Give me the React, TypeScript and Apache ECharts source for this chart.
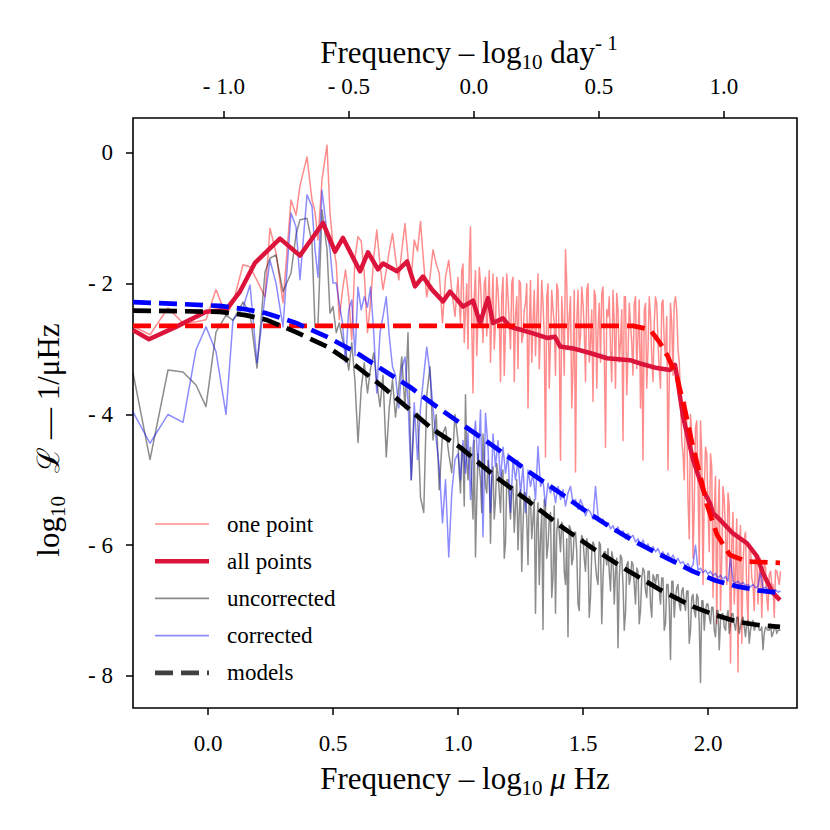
import React, { useEffect, useRef } from 'react';
import * as echarts from 'echarts';

const FONT = "'Liberation Serif', 'DejaVu Serif', serif";

// Frequency grid (log10 μHz) of the noisy spectra
const freqLow = [-0.30, -0.232, -0.16, -0.10, -0.048, -0.008, 0.032, 0.072, 0.10, 0.14, 0.168, 0.196, 0.228, 0.248, 0.272, 0.30, 0.332, 0.352, 0.368, 0.396, 0.416, 0.428, 0.44, 0.456, 0.476, 0.488, 0.50];
const freqMid = [0.513, 0.525, 0.538, 0.55, 0.563, 0.575, 0.588, 0.60, 0.613, 0.625, 0.638, 0.65, 0.663, 0.675, 0.688, 0.70, 0.713, 0.725, 0.738, 0.75, 0.763, 0.775, 0.788, 0.80, 0.813, 0.825, 0.838, 0.85, 0.863, 0.875, 0.888, 0.90, 0.913, 0.925, 0.938, 0.95, 0.963, 0.975, 0.988];
const freqHigh = [
  1.00, 1.01, 1.02, 1.03, 1.04, 1.05, 1.06, 1.07, 1.08, 1.09,
  1.10, 1.11, 1.12, 1.13, 1.14, 1.15, 1.16, 1.17, 1.18, 1.19,
  1.20, 1.21, 1.22, 1.23, 1.24, 1.25, 1.26, 1.27, 1.28, 1.29,
  1.30, 1.31, 1.32, 1.33, 1.34, 1.35, 1.36, 1.37, 1.38, 1.39,
  1.40, 1.41, 1.42, 1.43, 1.44, 1.45, 1.46, 1.47, 1.48, 1.49,
  1.50, 1.51, 1.52, 1.53, 1.54, 1.55, 1.56, 1.57, 1.58, 1.59,
  1.60, 1.61, 1.62, 1.63, 1.64, 1.65, 1.66, 1.67, 1.68, 1.69,
  1.70, 1.71, 1.72, 1.73, 1.74, 1.75, 1.76, 1.77, 1.78, 1.79,
  1.80, 1.81, 1.82, 1.83, 1.84, 1.85, 1.86, 1.87, 1.88, 1.89,
  1.90, 1.91, 1.92, 1.93, 1.94, 1.95, 1.96, 1.97, 1.98, 1.99,
  2.00, 2.01, 2.02, 2.03, 2.04, 2.05, 2.06, 2.07, 2.08, 2.09,
  2.10, 2.11, 2.12, 2.13, 2.14, 2.15, 2.16, 2.17, 2.18, 2.19,
  2.20, 2.21, 2.22, 2.23, 2.24, 2.25, 2.26, 2.27, 2.28, 2.29,
];
// in-between frequencies (used by the densest spectra)
const freqHighB = [
  1.005, 1.015, 1.025, 1.035, 1.045, 1.055, 1.065, 1.075, 1.085, 1.095,
  1.105, 1.115, 1.125, 1.135, 1.145, 1.155, 1.165, 1.175, 1.185, 1.195,
  1.205, 1.215, 1.225, 1.235, 1.245, 1.255, 1.265, 1.275, 1.285, 1.295,
  1.305, 1.315, 1.325, 1.335, 1.345, 1.355, 1.365, 1.375, 1.385, 1.395,
  1.405, 1.415, 1.425, 1.435, 1.445, 1.455, 1.465, 1.475, 1.485, 1.495,
  1.505, 1.515, 1.525, 1.535, 1.545, 1.555, 1.565, 1.575, 1.585, 1.595,
  1.605, 1.615, 1.625, 1.635, 1.645, 1.655, 1.665, 1.675, 1.685, 1.695,
  1.705, 1.715, 1.725, 1.735, 1.745, 1.755, 1.765, 1.775, 1.785, 1.795,
  1.805, 1.815, 1.825, 1.835, 1.845, 1.855, 1.865, 1.875, 1.885, 1.895,
  1.905, 1.915, 1.925, 1.935, 1.945, 1.955, 1.965, 1.975, 1.985, 1.995,
  2.005, 2.015, 2.025, 2.035, 2.045, 2.055, 2.065, 2.075, 2.085, 2.095,
  2.105, 2.115, 2.125, 2.135, 2.145, 2.155, 2.165, 2.175, 2.185, 2.195,
  2.205, 2.215, 2.225, 2.235, 2.245, 2.255, 2.265, 2.275, 2.285,
];

// "one point" spectrum (log10 power)
const onePointLow = [-2.65, -2.78, -2.37, -2.60, -2.58, -2.55, -2.09, -2.48, -2.30, -1.71, -1.74, -1.95, -2.20, -1.15, -1.53, -2.29, -0.72, -0.95, -0.50, -0.06, -0.72, -0.90, -1.33, -0.41, 0.12, -0.92, -1.40];
const onePointMid = [-1.69, -2.55, -2.1, -1.79, -2.2, -2.86, -1.6, -1.28, -1.35, -1.84, -2.75, -2.29, -1.6, -1.18, -1.7, -2.09, -1.8, -1.5, -1.23, -1.6, -1.94, -1.5, -1.08, -1.6, -1.9, -1.33, -1.5, -1.05, -1.7, -2.20, -1.9, -1.48, -1.7, -1.84, -2.6, -1.9, -1.64, -2.1, -2.50];
const onePointHigh = [
  -1.9, -2.6, -1.7, -2.4, -3.0, -1.13, -3.67, -1.8, -2.5, -2.0,
  -2.9, -1.9, -2.3, -3.2, -1.85, -2.6, -2.1, -3.5, -1.9, -2.7,
  -2.2, -3.0, -1.9, -2.5, -3.3, -2.0, -2.8, -2.3, -3.9, -1.95,
  -2.6, -3.1, -1.85, -2.7, -2.3, -4.65, -2.0, -2.9, -2.4, -3.4,
  -2.1, -4.7, -2.6, -1.48, -3.0, -2.2, -3.3, -4.88, -2.1, -2.8,
  -2.3, -3.5, -2.0, -2.9, -3.8, -2.2, -2.7, -3.2, -2.05, -4.5,
  -2.5, -3.0, -2.1, -3.6, -2.4, -2.9, -4.4, -2.2, -3.1, -2.6,
  -3.4, -2.2, -2.8, -3.9, -4.7, -2.3, -3.0, -2.5, -3.5, -2.2,
  -2.9, -3.6, -2.25, -3.1, -4.85, -2.3, -3.4, -2.2, -3.0, -3.7,
  -4.6, -3.8, -5.3, -4.0, -6.2, -4.2, -5.0, -4.1, -6.6, -4.5,
  -5.4, -4.6, -6.8, -4.95, -5.6, -7.0, -5.1, -5.8, -5.2, -7.8,
  -5.5, -6.4, -7.94, -5.7, -6.3, -5.8, -7.2, -6.0, -6.6, -6.1,
  -6.9, -6.2, -6.5, -6.33, -7.0, -6.4, -6.6, -6.38, -6.5, -6.4,
];
const onePointHighB = [
  -2.3, -1.8, -2.9, -2.0, -1.7, -2.6, -2.2, -3.1, -1.75, -2.4,
  -2.0, -2.8, -1.8, -2.4, -3.0, -1.9, -2.5, -2.2, -3.4, -1.85,
  -2.6, -2.0, -3.5, -2.2, -1.95, -2.9, -2.4, -2.0, -2.7, -3.2,
  -2.1, -2.5, -3.3, -1.95, -2.8, -2.2, -3.6, -2.1, -2.6, -2.0,
  -2.9, -2.2, -3.4, -2.0, -2.5, -3.9, -2.1, -2.6, -3.0, -2.05,
  -2.7, -2.1, -3.2, -2.4, -2.1, -3.6, -2.3, -2.15, -3.0, -2.4,
  -2.2, -3.5, -2.6, -2.15, -3.2, -2.4, -2.2, -3.7, -2.3, -2.9,
  -2.3, -3.3, -2.25, -2.7, -2.4, -3.6, -2.2, -3.1, -2.6, -2.3,
  -3.3, -2.3, -2.9, -2.5, -3.5, -2.6, -2.3, -2.4, -3.2, -4.4,
  -5.0, -4.1, -5.9, -4.3, -5.4, -4.1, -6.3, -4.6, -5.2, -4.6,
  -6.1, -4.8, -5.5, -7.2, -5.0, -6.2, -5.3, -6.6, -5.4, -6.0,
  -6.9, -5.6, -6.0, -7.5, -5.9, -6.7, -6.0, -6.5, -7.0, -6.2,
  -6.4, -7.1, -6.3, -6.8, -6.45, -6.6, -7.1, -6.4, -6.6,
];

// "uncorrected" spectrum
const uncorrectedLow = [-3.36, -4.69, -3.32, -3.35, -3.55, -3.88, -2.74, -2.48, -2.56, -2.28, -2.45, -3.29, -1.82, -1.61, -1.56, -2.12, -1.84, -1.25, -1.02, -1.00, -1.38, -2.66, -2.62, -0.87, -1.48, -2.45, -2.35];
const uncorrectedMid = [-2.75, -2.6, -2.86, -3.0, -3.32, -2.9, -3.5, -4.43, -3.6, -3.21, -3.67, -3.3, -3.06, -3.5, -3.88, -3.4, -4.65, -3.9, -3.47, -4.04, -3.6, -3.12, -3.9, -2.75, -5.0, -4.0, -3.98, -5.27, -5.5, -3.7, -3.27, -4.39, -4.0, -5.15, -4.3, -4.19, -4.6, -4.89, -4.0];
const uncorrectedHigh = [
  -4.4, -5.2, -4.6, -3.7, -5.0, -4.5, -5.6, -6.18, -4.6, -5.0,
  -4.3, -5.1, -4.7, -5.97, -4.8, -5.3, -4.9, -5.5, -4.85, -5.97,
  -5.0, -5.6, -5.1, -5.4, -6.07, -5.15, -5.7, -5.2, -6.3, -5.3,
  -5.6, -7.04, -5.35, -5.9, -7.29, -5.4, -6.0, -5.5, -6.5, -7.04,
  -5.6, -6.1, -5.7, -6.6, -7.4, -5.75, -6.2, -5.8, -6.9, -6.0,
  -5.9, -6.4, -6.0, -6.79, -5.95, -6.3, -6.6, -6.0, -6.5, -6.1,
  -6.05, -6.7, -6.2, -6.4, -7.57, -6.15, -6.6, -7.04, -6.25, -6.5,
  -6.3, -6.9, -6.4, -7.0, -6.35, -6.7, -6.4, -6.9, -6.45, -6.6,
  -6.45, -6.9, -6.5, -7.2, -6.6, -7.75, -6.55, -6.8, -6.6, -7.0,
  -6.65, -7.0, -6.7, -7.3, -6.75, -7.1, -6.8, -8.1, -6.85, -7.0,
  -6.9, -7.2, -6.95, -7.4, -7.0, -7.15, -7.05, -7.3, -7.0, -7.2,
  -7.05, -7.3, -7.1, -7.25, -7.1, -7.4, -7.15, -7.3, -7.15, -7.25,
  -7.2, -7.3, -7.6, -7.25, -7.3, -7.2, -7.35, -7.25, -7.3, -7.3,
];
const uncorrectedHighB = [
  -4.9, -4.5, -5.4, -4.7, -4.6, -5.1, -4.4, -5.3, -4.8, -5.5,
  -4.7, -5.2, -4.9, -5.0, -5.6, -4.75, -5.2, -4.9, -6.2, -5.0,
  -5.3, -5.1, -5.8, -5.0, -5.5, -6.4, -5.2, -5.6, -5.25, -5.9,
  -5.3, -5.7, -6.6, -5.5, -5.3, -6.2, -5.6, -6.8, -5.4, -5.8,
  -5.8, -5.65, -6.4, -5.9, -5.7, -6.3, -5.8, -6.1, -7.0, -5.85,
  -6.2, -5.9, -7.1, -6.1, -6.0, -6.5, -5.95, -7.2, -6.1, -6.3,
  -6.4, -6.1, -6.9, -6.2, -6.5, -6.2, -7.3, -6.3, -6.6, -6.25,
  -6.6, -6.35, -7.2, -6.5, -6.4, -6.8, -6.4, -7.1, -6.5, -6.45,
  -6.7, -6.5, -7.3, -6.6, -6.9, -6.55, -7.1, -6.65, -6.9, -6.7,
  -6.9, -6.7, -7.5, -6.8, -7.0, -6.75, -7.2, -6.85, -7.3, -6.9,
  -7.1, -6.95, -7.3, -7.0, -7.6, -7.05, -7.25, -7.1, -7.35, -7.05,
  -7.2, -7.1, -7.35, -7.15, -7.25, -7.2, -7.5, -7.2, -7.3, -7.2,
  -7.3, -7.25, -7.35, -7.28, -7.3, -7.4, -7.28, -7.35, -7.3,
];

// "corrected" spectrum
const correctedLow = [-3.96, -4.44, -4.00, -4.12, -3.01, -2.66, -3.04, -4.00, -2.55, -2.37, -2.02, -3.21, -2.2, -1.64, -1.99, -2.66, -0.92, -1.13, -1.94, -0.64, -0.82, -1.48, -1.9, -0.57, -1.22, -1.48, -1.99];
const correctedMid = [-1.99, -2.3, -2.6, -3.21, -2.4, -2.25, -3.1, -2.05, -2.4, -2.2, -2.36, -2.05, -2.75, -3.67, -2.75, -2.5, -2.20, -2.8, -3.27, -3.4, -3.9, -3.3, -3.12, -3.8, -5.0, -3.82, -4.69, -3.9, -3.4, -2.97, -3.37, -3.9, -4.39, -4.8, -5.66, -5.0, -6.18, -5.2, -4.69];
const correctedHigh = [
  -4.6, -5.0, -4.4, -4.9, -4.28, -5.3, -4.5, -4.1, -4.8, -3.93,
  -5.87, -3.98, -4.5, -5.5, -4.3, -4.8, -4.4, -5.0, -4.5, -4.9,
  -4.6, -5.5, -4.69, -5.0, -4.7, -5.2, -4.8, -5.5, -4.85, -5.1,
  -4.9, -5.3, -4.49, -5.1, -5.0, -5.4, -5.05, -5.2, -5.1, -5.35,
  -5.1, -5.3, -5.15, -5.4, -5.2, -5.1, -5.35, -5.3, -5.45, -5.3,
  -5.4, -5.55, -5.45, -5.5, -5.6, -5.1, -5.55, -5.65, -5.6, -5.7,
  -5.65, -5.75, -5.7, -5.8, -5.72, -5.85, -5.78, -5.9, -5.82, -5.88,
  -5.85, -5.95, -5.9, -6.0, -5.92, -6.05, -5.98, -6.1, -6.02, -6.1,
  -6.05, -6.15, -6.1, -6.2, -6.12, -6.22, -6.15, -6.25, -6.2, -6.28,
  -6.25, -6.32, -6.28, -6.36, -6.3, -6.0, -6.38, -6.35, -6.42, -6.38,
  -6.44, -6.4, -6.47, -6.43, -6.5, -6.46, -6.52, -6.48, -6.55, -6.2,
  -6.55, -6.58, -6.55, -6.6, -6.57, -6.62, -6.6, -6.64, -6.6, -6.65,
  -6.63, -6.4, -6.66, -6.64, -6.68, -6.66, -6.7, -6.68, -6.72, -6.7,
];

// "all points" spectrum
const allPointsFreq = [-0.30, -0.236, -0.128, -0.008, 0.072, 0.128, 0.188, 0.288, 0.368, 0.46, 0.508, 0.54, 0.608, 0.64, 0.68, 0.70, 0.756, 0.796, 0.828, 0.86, 0.896, 0.94, 0.968, 1.02, 1.06, 1.088, 1.12, 1.14, 1.18, 1.208, 1.248, 1.30, 1.356, 1.388, 1.408, 1.46, 1.528, 1.596, 1.688, 1.728, 1.796, 1.848, 1.868, 1.876, 1.90, 1.94, 1.98, 2.008, 2.02, 2.048, 2.10, 2.156, 2.196, 2.22, 2.26, 2.288];
const allPointsPower = [-2.71, -2.85, -2.66, -2.43, -2.40, -2.12, -1.68, -1.31, -1.57, -1.07, -1.51, -1.30, -1.81, -1.52, -1.78, -1.69, -1.81, -1.66, -2.04, -1.89, -2.09, -2.27, -2.12, -2.35, -2.26, -2.60, -2.22, -2.60, -2.53, -2.66, -2.70, -2.76, -2.83, -2.81, -2.96, -2.99, -3.06, -3.14, -3.17, -3.22, -3.29, -3.32, -3.24, -3.42, -4.03, -4.69, -5.15, -5.36, -5.51, -5.61, -5.82, -5.97, -6.17, -6.43, -6.73, -6.84];

// Models
const redModelFreq = [-0.30, 1.70, 1.768, 1.808, 1.84, 1.876, 1.908, 1.94, 1.968, 1.996, 2.036, 2.088, 2.156, 2.288];
const redModelPower = [-2.645, -2.645, -2.70, -2.905, -3.12, -3.43, -3.93, -4.50, -4.92, -5.38, -5.84, -6.15, -6.25, -6.27];
const blueModelFreq = [-0.30, -0.112, 0.048, 0.15, 0.232, 0.352, 0.48, 0.596, 0.70, 0.808, 0.90, 1.008, 1.14, 1.27, 1.408, 1.50, 1.608, 1.70, 1.796, 1.94, 2.03, 2.116, 2.20, 2.288];
const blueModelPower = [-2.28, -2.31, -2.34, -2.39, -2.45, -2.60, -2.82, -3.06, -3.32, -3.58, -3.84, -4.13, -4.48, -4.84, -5.20, -5.45, -5.72, -5.93, -6.12, -6.40, -6.54, -6.63, -6.69, -6.73];
const blackModelFreq = [-0.30, -0.112, 0.048, 0.15, 0.232, 0.352, 0.48, 0.596, 0.70, 0.808, 0.90, 1.008, 1.14, 1.276, 1.408, 1.54, 1.675, 1.808, 1.94, 2.03, 2.116, 2.20, 2.288];
const blackModelPower = [-2.41, -2.42, -2.43, -2.48, -2.55, -2.74, -2.97, -3.27, -3.58, -3.93, -4.23, -4.50, -4.92, -5.31, -5.70, -6.05, -6.38, -6.68, -6.94, -7.07, -7.17, -7.22, -7.25];

// Ticks
const bottomTicks = [0, 0.5, 1.0, 1.5, 2.0];
const topTicks = [-1.0, -0.5, 0, 0.5, 1.0];
const yTicks = [-8, -6, -4, -2, 0];
const LOG10_DAY_OFFSET = 1.0635; // log10(μHz -> day^-1)
const X_MIN = -0.3;
const X_MAX = 2.356;
const Y_MIN = -8.49;
const Y_MAX = 0.535;

const legendItems = [
  { name: 'one point', color: 'rgba(255,0,0,0.45)', width: 1.7, dash: null as number[] | null },
  { name: 'all points', color: '#dc143c', width: 4.5, dash: null },
  { name: 'uncorrected', color: 'rgba(0,0,0,0.45)', width: 1.7, dash: null },
  { name: 'corrected', color: 'rgba(0,0,255,0.45)', width: 1.7, dash: null },
  { name: 'models', color: '#404040', width: 4.7, dash: [18, 8] },
];

const pairs = (xs: number[], ys: number[]) => xs.map((x, i) => [x, ys[i]]);
const merged = (a: number[][], b: number[][]) => [...a, ...b].sort((p, q) => p[0] - q[0]);
const minus = (s: string) => s.replace('-', '- ');

export default function App() {
  const ref = useRef<HTMLDivElement>(null);
  useEffect(() => {
    if (!ref.current) return;
    const chart = echarts.init(ref.current, null, { renderer: 'svg' });
    const freq = [...freqLow, ...freqMid, ...freqHigh];
    const onePoint = merged(pairs(freq, [...onePointLow, ...onePointMid, ...onePointHigh]), pairs(freqHighB, onePointHighB));
    const uncorrected = merged(pairs(freq, [...uncorrectedLow, ...uncorrectedMid, ...uncorrectedHigh]), pairs(freqHighB, uncorrectedHighB));
    const corrected = pairs(freq, [...correctedLow, ...correctedMid, ...correctedHigh]);

    const tickStyle = { show: true, length: 7, inside: false, lineStyle: { color: '#000', width: 1.5 } };
    const labelStyle = { fontFamily: FONT, fontSize: 23, color: '#000' };
    const thin = (color: string) => ({ color, width: 1.5, join: 'round', cap: 'butt' });
    const dashed = (color: string) => ({ color, width: 4.7, type: [18, 8], cap: 'butt' });

    const titleRich = {
      t: { fontFamily: FONT, fontSize: 31, lineHeight: 40, color: '#000' },
      s: { fontFamily: FONT, fontSize: 21, lineHeight: 18, verticalAlign: 'bottom', color: '#000' },
      p: { fontFamily: FONT, fontSize: 21, lineHeight: 18, verticalAlign: 'top', color: '#000' },
      m: { fontFamily: FONT, fontSize: 31, lineHeight: 40, fontStyle: 'italic', color: '#000' },
    };

    const legendGraphics: any[] = [];
    legendItems.forEach((it, i) => {
      const y = 524 + i * 37.2;
      legendGraphics.push({
        type: 'line',
        shape: { x1: 155, y1: y, x2: 209, y2: y },
        style: { stroke: it.color, lineWidth: it.width, lineDash: it.dash || undefined, lineCap: 'butt' },
        silent: true,
      });
      legendGraphics.push({
        type: 'text',
        x: 227,
        y,
        style: { text: it.name, fontFamily: FONT, fontSize: 23, fill: '#000', align: 'left', verticalAlign: 'middle' },
        silent: true,
      });
    });

    chart.setOption({
      animation: false,
      backgroundColor: '#fff',
      grid: { left: 133, right: 33, top: 118, bottom: 122, show: true, borderColor: '#000', borderWidth: 1.6, backgroundColor: 'transparent' },
      xAxis: [
        {
          type: 'value', position: 'bottom', min: X_MIN, max: X_MAX,
          axisLine: { show: false, onZero: false },
          axisTick: { ...tickStyle, customValues: bottomTicks },
          axisLabel: { ...labelStyle, margin: 24, customValues: bottomTicks, formatter: (v: number) => minus(v.toFixed(1)) },
          splitLine: { show: false },
        },
        {
          type: 'value', position: 'top', min: X_MIN - LOG10_DAY_OFFSET, max: X_MAX - LOG10_DAY_OFFSET,
          axisLine: { show: false, onZero: false },
          axisTick: { ...tickStyle, customValues: topTicks },
          axisLabel: { ...labelStyle, margin: 20, customValues: topTicks, formatter: (v: number) => minus(v.toFixed(1)) },
          splitLine: { show: false },
        },
      ],
      yAxis: {
        type: 'value', min: Y_MIN, max: Y_MAX,
        axisLine: { show: false, onZero: false },
        axisTick: { ...tickStyle, customValues: yTicks },
        axisLabel: { ...labelStyle, margin: 20, customValues: yTicks, formatter: (v: number) => minus(String(v)) },
        splitLine: { show: false },
      },
      series: [
        { name: 'one point', type: 'line', data: onePoint, symbol: 'none', lineStyle: thin('rgba(255,0,0,0.45)'), z: 2 },
        { name: 'uncorrected', type: 'line', data: uncorrected, symbol: 'none', lineStyle: thin('rgba(0,0,0,0.45)'), z: 2 },
        { name: 'corrected', type: 'line', data: corrected, symbol: 'none', lineStyle: thin('rgba(0,0,255,0.45)'), z: 2 },
        { name: 'all points', type: 'line', data: pairs(allPointsFreq, allPointsPower), symbol: 'none', lineStyle: { color: '#dc143c', width: 4.5, join: 'round' }, z: 3 },
        { name: 'one point model', type: 'line', data: pairs(redModelFreq, redModelPower), symbol: 'none', lineStyle: dashed('#ff0000'), z: 4 },
        { name: 'corrected model', type: 'line', data: pairs(blueModelFreq, blueModelPower), symbol: 'none', lineStyle: dashed('#0000ff'), z: 4 },
        { name: 'uncorrected model', type: 'line', data: pairs(blackModelFreq, blackModelPower), symbol: 'none', lineStyle: dashed('#000000'), z: 4 },
      ],
      graphic: [
        ...legendGraphics,
        {
          type: 'text', x: 465, y: 778, silent: true,
          style: { text: '{t|Frequency – log}{s|10}{m| μ}{t| Hz}', rich: titleRich, align: 'center', verticalAlign: 'middle' },
        },
        {
          type: 'text', x: 469, y: 52, silent: true,
          style: { text: '{t|Frequency – log}{s|10}{t| day}{p|- 1}', rich: titleRich, align: 'center', verticalAlign: 'middle' },
        },
        {
          type: 'text', x: 48, y: 440, rotation: Math.PI / 2, silent: true,
          style: { text: '{t|log}{s|10}{t|   ℒ — 1/μHz}', rich: titleRich, align: 'center', verticalAlign: 'middle' },
        },
      ],
    });
    return () => chart.dispose();
  }, []);
  return <div ref={ref} style={{ position: 'fixed', left: 0, top: 0, width: 830, height: 830 }} />;
}
